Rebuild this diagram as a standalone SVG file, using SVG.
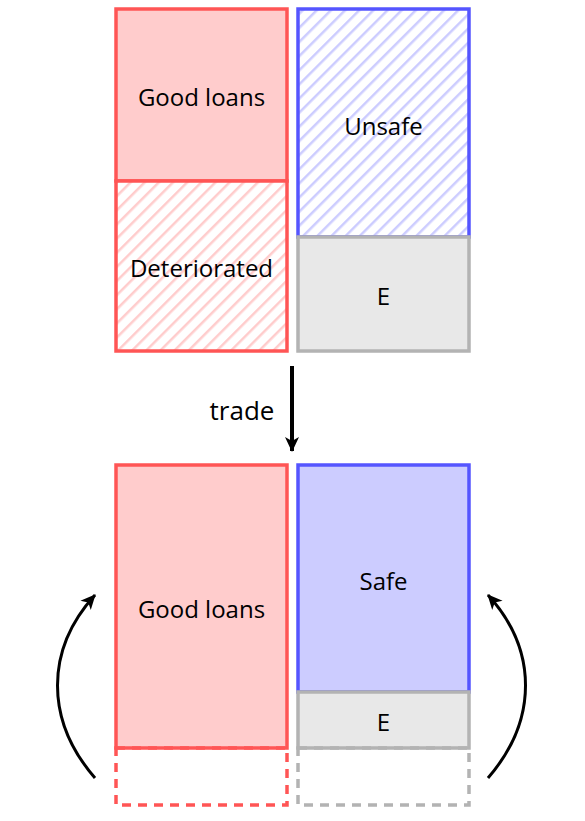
<svg xmlns="http://www.w3.org/2000/svg" width="585" height="821" viewBox="0 0 585 821">
<defs>
<pattern id="hatchRed" patternUnits="userSpaceOnUse" width="10" height="10" patternTransform="rotate(45)">
<rect width="10" height="10" fill="#ffffff"/>
<line x1="0" y1="0" x2="0" y2="10" stroke="#ffcccc" stroke-width="5"/>
</pattern>
<pattern id="hatchBlue" patternUnits="userSpaceOnUse" width="10" height="10" patternTransform="rotate(45)">
<rect width="10" height="10" fill="#ffffff"/>
<line x1="0" y1="0" x2="0" y2="10" stroke="#ccccff" stroke-width="5"/>
</pattern>
<marker id="ah" viewBox="0 0 16 16" refX="14" refY="8" markerWidth="16" markerHeight="16" markerUnits="userSpaceOnUse" orient="auto">
<path d="M0,1 L15,8 L0,15 L4,8 Z" fill="#000"/>
</marker>
</defs>
<style>
.red{fill:#ffcccc;stroke:#ff5555;stroke-width:3.5}
.blue{fill:#ccccff;stroke:#5555ff;stroke-width:3.5}
.gray{fill:#e8e8e8;stroke:#b3b3b3;stroke-width:3.5}
.dred{fill:none;stroke:#ff5555;stroke-width:3.5;stroke-dasharray:9 7}
.dgray{fill:none;stroke:#b3b3b3;stroke-width:3.5;stroke-dasharray:9 7}
text{font-family:"Open Sans","DejaVu Sans",sans-serif;font-size:24px;fill:#000;text-anchor:middle;dominant-baseline:central}
.conn{fill:none;stroke:#000;stroke-width:3}
</style>
<g id="top-good-loans"><rect class="red" x="116" y="9" width="171" height="172"/><text x="201.5" y="96">Good loans</text></g>
<g id="top-deteriorated"><rect class="red" x="116" y="181" width="171" height="170" style="fill:url(#hatchRed)"/><text x="201.5" y="267">Deteriorated</text></g>
<g id="top-unsafe"><rect class="blue" x="298" y="9" width="171" height="228" style="fill:url(#hatchBlue)"/><text x="383.5" y="125">Unsafe</text></g>
<g id="top-e"><rect class="gray" x="298" y="237" width="171" height="114"/><text x="383.5" y="295">E</text></g>
<g id="bottom-good-loans"><rect class="red" x="116" y="465" width="171" height="283"/><text x="201.5" y="608">Good loans</text></g>
<g id="bottom-red-dashed"><rect class="dred" x="116" y="748" width="171" height="57"/></g>
<g id="bottom-safe"><rect class="blue" x="298" y="465" width="171" height="227"/><text x="383.5" y="580">Safe</text></g>
<g id="bottom-e"><rect class="gray" x="298" y="692" width="171" height="56"/><text x="383.5" y="721">E</text></g>
<g id="bottom-gray-dashed"><rect class="dgray" x="298" y="748" width="171" height="57"/></g>
<g id="connectors">
<line class="conn" x1="292" y1="366" x2="292" y2="451" marker-end="url(#ah)" style="stroke-width:4"/>
<text x="242" y="410" style="font-size:26px">trade</text>
<path class="conn" d="M95,778 C45,720 45,650 95,595" marker-end="url(#ah)"/>
<path class="conn" d="M488,778 C538,720 538,650 488,595" marker-end="url(#ah)"/>
</g>
</svg>
